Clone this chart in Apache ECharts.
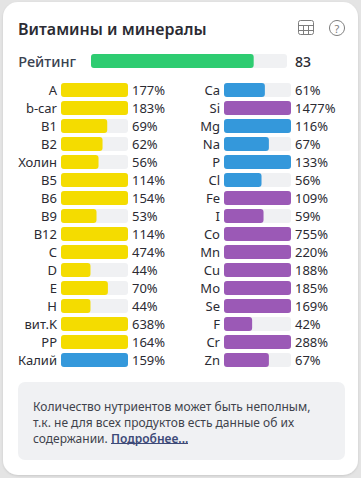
<!DOCTYPE html>
<html>
<head>
<meta charset="utf-8">
<style>
  html, body { margin: 0; padding: 0; background: #e4e4e4; }
  #chart { width: 361px; height: 478px; }
</style>
<script src="https://cdn.jsdelivr.net/npm/echarts@6/dist/echarts.min.js"></script>
</head>
<body>
<div id="chart"></div>
<script>
// Витамины и минералы - карточка нутриентов
const FONT = '"Noto Sans", sans-serif';
const YELLOW = '#f4dc00';
const BLUE = '#3498db';
const PURPLE = '#9b59b6';
const TRACK = '#f0f1f3';
const TEXT = '#2b2b33';

const ratingValue = 83;

const leftNames = ['A', 'b-car', 'B1', 'B2', 'Холин', 'B5', 'B6', 'B9', 'B12', 'C', 'D', 'E', 'H', 'вит.K', 'PP', 'Калий'];
const leftValues = [177, 183, 69, 62, 56, 114, 154, 53, 114, 474, 44, 70, 44, 638, 164, 159];
const leftColors = [YELLOW, YELLOW, YELLOW, YELLOW, YELLOW, YELLOW, YELLOW, YELLOW, YELLOW, YELLOW, YELLOW, YELLOW, YELLOW, YELLOW, YELLOW, BLUE];

const rightNames = ['Ca', 'Si', 'Mg', 'Na', 'P', 'Cl', 'Fe', 'I', 'Co', 'Mn', 'Cu', 'Mo', 'Se', 'F', 'Cr', 'Zn'];
const rightValues = [61, 1477, 116, 67, 133, 56, 109, 59, 755, 220, 188, 185, 169, 42, 288, 67];
const rightColors = [BLUE, PURPLE, BLUE, BLUE, BLUE, BLUE, PURPLE, PURPLE, PURPLE, PURPLE, PURPLE, PURPLE, PURPLE, PURPLE, PURPLE, PURPLE];

const noteLines = [
  'Количество нутриентов может быть неполным,',
  'т.к. не для всех продуктов есть данные об их',
  'содержании.'
];
const noteLink = 'Подробнее...';

const chart = echarts.init(document.getElementById('chart'), null, { renderer: 'svg' });

function nameAxis(gridIndex, names) {
  return {
    type: 'category', gridIndex, data: names, inverse: true,
    axisLine: { show: false }, axisTick: { show: false },
    axisLabel: { color: TEXT, fontFamily: FONT, fontSize: 13, margin: 4, padding: [2, 0, 0, 0] }
  };
}

function pctAxis(gridIndex, values) {
  return {
    type: 'category', gridIndex, position: 'right', inverse: true,
    data: values.map(v => v + '%'),
    axisLine: { show: false }, axisTick: { show: false },
    axisLabel: { color: TEXT, fontFamily: FONT, fontSize: 13, margin: 4, padding: [2, 0, 0, 0] }
  };
}

function barSeries(xAxisIndex, yAxisIndex, values, colors) {
  return {
    type: 'bar', xAxisIndex, yAxisIndex, barWidth: 14,
    showBackground: true,
    backgroundStyle: { color: TRACK, borderRadius: 3 },
    itemStyle: { borderRadius: 3 },
    // шкала обрезана на 100%, подпись остаётся настоящей
    data: values.map((v, i) => ({ value: Math.min(v, 100), itemStyle: { color: colors[i] } }))
  };
}

const valueAxis = gridIndex => ({ type: 'value', gridIndex, min: 0, max: 100, show: false });

chart.setOption({
  animation: false,
  grid: [
    { left: 91, top: 54, width: 196, height: 14 },
    { left: 61, top: 81, width: 67, height: 288 },
    { left: 224, top: 81, width: 67, height: 288 }
  ],
  xAxis: [valueAxis(0), valueAxis(1), valueAxis(2)],
  yAxis: [
    { type: 'category', gridIndex: 0, data: ['Рейтинг'], axisLine: { show: false }, axisTick: { show: false },
      axisLabel: { color: '#3a4250', fontFamily: FONT, fontSize: 14.5, fontWeight: 500, margin: 15, padding: [2, 0, 0, 0] } },
    { type: 'category', gridIndex: 0, position: 'right', data: [String(ratingValue)], axisLine: { show: false }, axisTick: { show: false },
      axisLabel: { color: TEXT, fontFamily: FONT, fontSize: 14, fontWeight: 500, margin: 8, padding: [2, 0, 0, 0] } },
    nameAxis(1, leftNames),
    pctAxis(1, leftValues),
    nameAxis(2, rightNames),
    pctAxis(2, rightValues)
  ],
  series: [
    barSeries(0, 0, [ratingValue], ['#2ecc71']),
    barSeries(1, 2, leftValues, leftColors),
    barSeries(2, 4, rightValues, rightColors)
  ],
  graphic: [
    { type: 'rect', z: -10, shape: { x: 3, y: 2, width: 355, height: 473, r: 15 },
      style: { fill: '#fff', shadowBlur: 2, shadowColor: 'rgba(0,0,0,0.12)', shadowOffsetY: 1 } },
    { type: 'text', x: 18, y: 29, style: { text: 'Витамины и минералы', font: '600 16px ' + FONT, fill: TEXT, textVerticalAlign: 'middle' } },

    // иконка таблицы
    { type: 'rect', shape: { x: 298.5, y: 20.5, width: 15, height: 14, r: 2 }, style: { fill: 'none', stroke: '#7d7d7d', lineWidth: 1 } },
    { type: 'line', shape: { x1: 298.5, y1: 25.5, x2: 313.5, y2: 25.5 }, style: { stroke: '#7d7d7d', lineWidth: 1 } },
    { type: 'line', shape: { x1: 298.5, y1: 30.5, x2: 313.5, y2: 30.5 }, style: { stroke: '#7d7d7d', lineWidth: 1 } },
    { type: 'line', shape: { x1: 303.5, y1: 25, x2: 303.5, y2: 34.5 }, style: { stroke: '#7d7d7d', lineWidth: 1 } },
    { type: 'line', shape: { x1: 308.5, y1: 25, x2: 308.5, y2: 34.5 }, style: { stroke: '#7d7d7d', lineWidth: 1 } },
    // иконка подсказки
    { type: 'circle', shape: { cx: 337, cy: 28, r: 7.5 }, style: { fill: 'none', stroke: '#7d7d7d', lineWidth: 1 } },
    { type: 'text', x: 337, y: 28, style: { text: '?', font: '11px ' + FONT, fill: '#7d7d7d', textAlign: 'center', textVerticalAlign: 'middle' } },

    // блок примечания
    { type: 'rect', z: -5, shape: { x: 18, y: 382, width: 327, height: 78, r: 7 }, style: { fill: TRACK } },
    ...noteLines.map((line, i) => ({
      type: 'text', x: 33, y: 406 + i * 16,
      style: { text: line, font: '12px ' + FONT, fill: '#3f434c', textVerticalAlign: 'middle' }
    })),
    { type: 'text', x: 111, y: 438, style: { text: noteLink, font: '600 12px ' + FONT, fill: '#3d4a78', textVerticalAlign: 'middle' } },
    { type: 'line', shape: { x1: 111, y1: 443.5, x2: 188, y2: 443.5 }, style: { stroke: '#3d4a78', lineWidth: 1 } }
  ]
});
</script>
</body>
</html>
